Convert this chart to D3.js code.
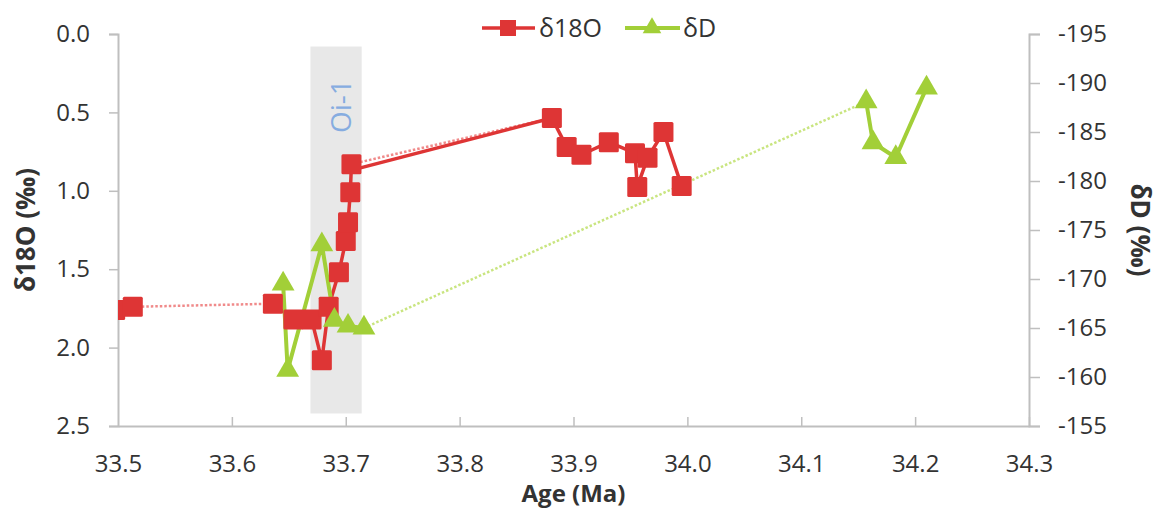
<!DOCTYPE html>
<html>
<head>
<meta charset="utf-8">
<script src="https://cdn.jsdelivr.net/npm/d3@7"></script>
<style>
  body { margin: 0; background: #fff; }
  svg { display: block; font-family: 'Open Sans', sans-serif; }
</style>
</head>
<body>
<div id="chart"></div>
<script>
// δ18O series (age in Ma, value in ‰); group = solid-connected run
const ages18O = [33.4975, 33.513, 33.636, 33.654, 33.670, 33.679, 33.685, 33.694, 33.700, 33.702, 33.704, 33.705,
  33.881, 33.894, 33.907, 33.931, 33.954, 33.956, 33.965, 33.979, 33.995]
const vals18O = [1.76, 1.74, 1.72, 1.82, 1.82, 2.08, 1.74, 1.52, 1.32, 1.20, 1.01, 0.83,
  0.536, 0.72, 0.77, 0.69, 0.76, 0.975, 0.79, 0.625, 0.97]
const groups18O = [0, 1, 2, 2, 2, 2, 2, 2, 2, 2, 2, 2, 3, 3, 3, 3, 3, 3, 3, 3, 3]
// solid link drawn across the Oi-1 gap
const linkAges18O = [33.707, 33.881]
const linkVals18O = [0.865, 0.536]

// δD series
const agesD = [33.645, 33.649, 33.679, 33.690, 33.702, 33.716, 34.157, 34.163, 34.183, 34.210]
const valsD = [-169.5, -160.7, -173.5, -165.8, -165.2, -165.0, -188.1, -183.9, -182.4, -189.5]
const groupsD = [0, 0, 0, 0, 0, 0, 1, 1, 1, 1]

// Oi-1 event band
const oiAges = [33.669, 33.714]
const oiVals = [0.08, 2.42]

const xTicks = [33.5, 33.6, 33.7, 33.8, 33.9, 34.0, 34.1, 34.2, 34.3]
const yLeftTicks = [0, 0.5, 1.0, 1.5, 2.0, 2.5]
const yRightTicks = [-195, -190, -185, -180, -175, -170, -165, -160, -155]

const width = 1161
const height = 511
const red = '#de3535'
const redDot = '#f08a8a'
const green = '#a2cf38'
const greenDot = '#c9e580'
const axisColor = '#bfbfbf'
const textColor = '#333333'

const svg = d3.select('#chart')
  .append('svg')
  .attr('width', width)
  .attr('height', height)

const x = d3.scaleLinear().domain([33.5, 34.3]).range([118, 1029])
const yL = d3.scaleLinear().domain([0, 2.5]).range([34, 426])
const yR = d3.scaleLinear().domain([-195, -155]).range([34, 426])

svg.append('clipPath')
  .attr('id', 'clip-plot')
  .append('rect')
  .attr('x', x.range()[0])
  .attr('y', yL.range()[0] - 20)
  .attr('width', x.range()[1] - x.range()[0])
  .attr('height', yL.range()[1] - yL.range()[0] + 20)

// Oi-1 band
svg.append('rect')
  .attr('x', x(oiAges[0]))
  .attr('y', yL(oiVals[0]))
  .attr('width', x(oiAges[1]) - x(oiAges[0]))
  .attr('height', yL(oiVals[1]) - yL(oiVals[0]))
  .style('fill', '#e8e8e8')

svg.append('text')
  .text('Oi-1')
  .attr('transform', `translate(${(x(oiAges[0]) + x(oiAges[1])) / 2 + 15}, ${yL(0.46)}) rotate(-90)`)
  .attr('text-anchor', 'middle')
  .style('font-size', '28px')
  .style('fill', '#86ace0')

// axes
function styleAxis(g) {
  g.select('.domain').attr('stroke', axisColor).attr('stroke-width', 2)
  g.selectAll('.tick line').attr('stroke', axisColor).attr('stroke-width', 1.5)
  g.selectAll('.tick text').style('font-size', '24px').style('fill', textColor)
    .style('font-family', "'Open Sans', sans-serif")
}

svg.append('g')
  .attr('transform', `translate(0, ${yL.range()[1]})`)
  .call(d3.axisBottom(x).tickValues(xTicks).tickFormat(d3.format('.1f'))
    .tickSizeInner(-9).tickSizeOuter(0).tickPadding(29))
  .call(styleAxis)
  .call(g => g.selectAll('.tick').filter(d => d === 33.5).select('line').remove())

svg.append('g')
  .attr('transform', `translate(${x.range()[0]}, 0)`)
  .call(d3.axisLeft(yL).tickValues(yLeftTicks).tickFormat(d3.format('.1f'))
    .tickSize(9).tickPadding(19))
  .call(styleAxis)

svg.append('g')
  .attr('transform', `translate(${x.range()[1]}, 0)`)
  .call(d3.axisRight(yR).tickValues(yRightTicks).tickFormat(d => d3.format('d')(d).replace('−', '-'))
    .tickSize(11).tickPadding(18))
  .call(styleAxis)

// axis titles
svg.append('text')
  .text('δ18O (‰)')
  .attr('transform', `translate(35, ${(yL.range()[0] + yL.range()[1]) / 2}) rotate(-90)`)
  .attr('text-anchor', 'middle')
  .style('font-size', '26px')
  .style('font-weight', 'bold')
  .style('fill', textColor)

svg.append('text')
  .text('δD (‰)')
  .attr('transform', `translate(1131, ${(yL.range()[0] + yL.range()[1]) / 2}) rotate(90)`)
  .attr('text-anchor', 'middle')
  .style('font-size', '26px')
  .style('font-weight', 'bold')
  .style('fill', textColor)

svg.append('text')
  .text('Age (Ma)')
  .attr('x', (x.range()[0] + x.range()[1]) / 2)
  .attr('y', 502)
  .attr('text-anchor', 'middle')
  .style('font-size', '24px')
  .style('font-weight', 'bold')
  .style('fill', textColor)

// series
const plot = svg.append('g').attr('clip-path', 'url(#clip-plot)')

function drawSeries(ages, vals, groups, yScale, color, dotColor, width) {
  const pts = ages.map((a, i) => ({ x: x(a), y: yScale(vals[i]), g: groups[i] }))
  const segs = d3.pairs(pts)
  const line = d3.line().x(d => d.x).y(d => d.y)
  plot.append('g').selectAll('path.dot')
    .data(segs.filter(s => s[0].g !== s[1].g))
    .enter().append('path')
    .attr('d', line)
    .style('fill', 'none')
    .style('stroke', dotColor)
    .style('stroke-width', 2.5)
    .style('stroke-dasharray', '2.5,2')
  const runs = d3.groups(pts, d => d.g).map(r => r[1]).filter(r => r.length > 1)
  plot.append('g').selectAll('path.solid')
    .data(runs)
    .enter().append('path')
    .attr('d', line)
    .style('fill', 'none')
    .style('stroke', color)
    .style('stroke-width', width)
    .style('stroke-linejoin', 'round')
  return pts
}

const pts18O = drawSeries(ages18O, vals18O, groups18O, yL, red, redDot, 3.5)

plot.append('path')
  .datum(linkAges18O.map((a, i) => [x(a), yL(linkVals18O[i])]))
  .attr('d', d3.line())
  .style('fill', 'none')
  .style('stroke', red)
  .style('stroke-width', 3.5)

const ptsD = drawSeries(agesD, valsD, groupsD, yR, green, greenDot, 4)

plot.append('g').selectAll('rect')
  .data(pts18O)
  .enter().append('rect')
  .attr('x', d => d.x - 10)
  .attr('y', d => d.y - 10)
  .attr('width', 20)
  .attr('height', 20)
  .attr('rx', 1.5)
  .style('fill', red)

const tri = d3.symbol().type(d3.symbolTriangle).size(225)
plot.append('g').selectAll('path')
  .data(ptsD)
  .enter().append('path')
  .attr('d', tri)
  .attr('transform', d => `translate(${d.x}, ${d.y})`)
  .style('fill', green)

// legend
const legend = svg.append('g').attr('transform', 'translate(0, 28)')
legend.append('line')
  .attr('x1', 482).attr('x2', 535)
  .style('stroke', red).style('stroke-width', 3.5)
legend.append('rect')
  .attr('x', 500).attr('y', -8).attr('width', 16).attr('height', 16)
  .style('fill', red)
legend.append('text')
  .text('δ18O')
  .attr('x', 539).attr('dy', '0.35em')
  .style('font-size', '25px').style('fill', textColor)
legend.append('line')
  .attr('x1', 625).attr('x2', 680)
  .style('stroke', green).style('stroke-width', 4)
legend.append('path')
  .attr('d', d3.symbol().type(d3.symbolTriangle).size(150))
  .attr('transform', 'translate(652, 0)')
  .style('fill', green)
legend.append('text')
  .text('δD')
  .attr('x', 683).attr('dy', '0.35em')
  .style('font-size', '25px').style('fill', textColor)
</script>
</body>
</html>
